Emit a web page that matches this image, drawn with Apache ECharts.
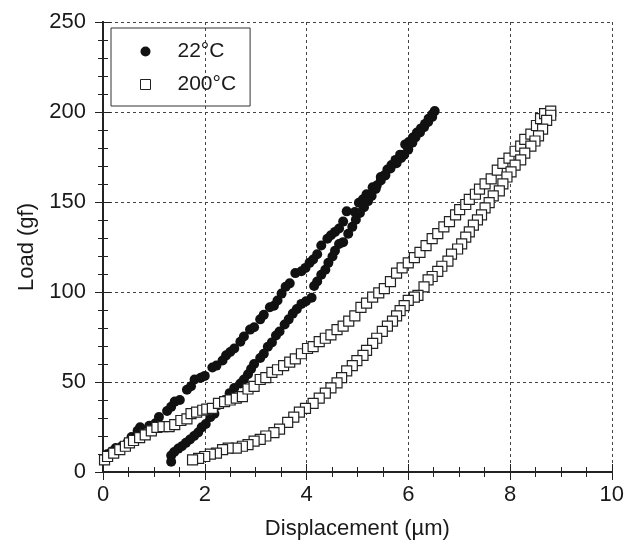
<!DOCTYPE html>
<html>
<head>
<meta charset="utf-8">
<script src="https://cdn.jsdelivr.net/npm/echarts@6/dist/echarts.min.js"></script>
<style>
  html, body { margin: 0; padding: 0; background: #fff; }
  #main { width: 627px; height: 545px; }
</style>
</head>
<body>
<div id="main"></div>
<script>
// 22°C: loading branch then unloading branch
var disp22 = [0.08, 0.17, 0.25, 0.37, 0.48, 0.56, 0.68, 0.73, 0.91, 1.03, 1.10, 1.26, 1.34, 1.41, 1.51, 1.65, 1.73, 1.80, 1.92, 2.00,
  2.15, 2.23, 2.35, 2.42, 2.50, 2.58, 2.70, 2.77, 2.89, 2.97, 3.09, 3.16, 3.28, 3.36, 3.43, 3.51, 3.59, 3.67, 3.78, 3.90,
  3.98, 4.06, 4.13, 4.21, 4.29, 4.41, 4.48, 4.56, 4.64, 4.72, 4.79, 4.95, 5.03, 5.11, 5.18, 5.30, 5.38, 5.46, 5.53, 5.59,
  5.67, 5.75, 5.84, 5.94, 6.01, 6.09, 6.17, 6.25, 6.33, 6.40, 6.47, 6.52,
  6.47, 6.39, 6.31, 6.23, 6.14, 6.08, 6.00, 5.92, 5.86, 5.77, 5.65, 5.55, 5.46, 5.36, 5.28, 5.21, 5.13, 5.05, 4.97, 4.90,
  4.82, 4.72, 4.64, 4.56, 4.51, 4.43, 4.37, 4.29, 4.21, 4.15, 4.10, 3.99, 3.90, 3.81, 3.73, 3.65, 3.57, 3.47, 3.40, 3.32,
  3.24, 3.16, 3.09, 2.97, 2.91, 2.85, 2.77, 2.70, 2.58, 2.49, 2.39, 2.27, 2.19, 2.11, 2.02, 1.94, 1.87, 1.79, 1.71, 1.63,
  1.55, 1.48, 1.40, 1.34, 1.34];
var load22 = [9.9, 11.4, 13.3, 14.3, 16.2, 19.4, 22.9, 24.8, 25.7, 27.1, 30.5, 33.9, 36.2, 39.1, 40.0, 45.7, 47.6, 51.4, 52.4, 53.4,
  58.1, 59.1, 61.9, 64.8, 66.7, 68.6, 72.4, 75.3, 79.1, 80.4, 84.8, 87.3, 91.5, 92.4, 95.3, 99.1, 102.9, 104.8, 110.5, 111.5,
  113.4, 116.2, 118.1, 121.0, 125.8, 129.6, 131.5, 133.4, 135.3, 139.1, 144.8, 144.4, 149.6, 151.5, 154.3, 158.2, 159.1, 163.9, 164.8, 168.1,
  170.5, 173.4, 176.3, 182.0, 183.3, 185.8, 188.6, 190.9, 193.4, 196.3, 198.6, 200.5,
  197.2, 194.4, 191.5, 188.6, 185.8, 182.9, 179.1, 176.3, 174.4, 171.5, 168.6, 164.8, 162.0, 157.2, 153.4, 150.5, 147.1, 143.9, 140.1, 136.2,
  132.4, 127.7, 126.7, 122.9, 119.7, 116.2, 112.4, 109.6, 105.8, 103.3, 96.8, 94.9, 93.4, 90.5, 88.0, 84.8, 81.9, 78.1, 75.8, 72.0,
  69.6, 65.7, 63.3, 60.0, 57.2, 54.3, 51.4, 49.2, 46.7, 43.8, 40.0, 37.2, 32.4, 30.5, 26.7, 24.8, 21.9, 20.0, 18.1, 16.2,
  14.3, 13.0, 11.1, 9.1, 5.7];

// 200°C: loading branch then unloading branch
var disp200 = [0.03, 0.09, 0.21, 0.33, 0.44, 0.52, 0.60, 0.72, 0.83, 0.95, 1.06, 1.18, 1.30, 1.41, 1.53, 1.65, 1.73, 1.84, 1.96, 2.04,
  2.15, 2.27, 2.39, 2.50, 2.62, 2.74, 2.85, 2.97, 3.09, 3.20, 3.32, 3.43, 3.55, 3.67, 3.78, 3.90, 4.02, 4.13, 4.25, 4.37,
  4.48, 4.60, 4.72, 4.83, 4.95, 5.07, 5.18, 5.30, 5.42, 5.53, 5.65, 5.77, 5.88, 6.00, 6.12, 6.23, 6.35, 6.47, 6.58, 6.70,
  6.81, 6.93, 7.01, 7.13, 7.20, 7.32, 7.40, 7.51, 7.63, 7.75, 7.86, 7.98, 8.10, 8.21, 8.29, 8.41, 8.52, 8.60, 8.68, 8.80,
  8.80, 8.72, 8.64, 8.56, 8.49, 8.41, 8.29, 8.21, 8.10, 8.02, 7.94, 7.86, 7.79, 7.67, 7.59, 7.51, 7.44, 7.36, 7.28, 7.20,
  7.13, 7.05, 6.97, 6.85, 6.78, 6.66, 6.58, 6.47, 6.39, 6.31, 6.19, 6.12, 6.00, 5.92, 5.84, 5.77, 5.69, 5.59, 5.49, 5.38,
  5.30, 5.18, 5.11, 4.99, 4.90, 4.79, 4.69, 4.60, 4.48, 4.37, 4.25, 4.13, 3.98, 3.86, 3.75, 3.63, 3.47, 3.36, 3.20, 3.09,
  2.97, 2.85, 2.74, 2.62, 2.46, 2.35, 2.23, 2.11, 2.00, 1.88, 1.76];
var load200 = [6.7, 8.6, 10.5, 12.4, 14.3, 16.2, 17.5, 19.1, 20.6, 22.9, 24.8, 25.2, 25.2, 26.3, 28.6, 29.5, 32.4, 33.3, 34.3, 34.9,
  35.3, 38.1, 39.1, 40.0, 41.0, 41.9, 46.1, 47.6, 51.4, 52.4, 55.3, 56.8, 59.1, 61.0, 62.9, 65.7, 68.6, 69.6, 72.4, 74.3,
  76.2, 79.1, 81.0, 83.8, 86.7, 91.5, 93.8, 97.2, 99.5, 101.9, 105.8, 110.5, 113.4, 116.2, 119.1, 122.0, 125.8, 129.6, 132.4, 136.2,
  139.1, 142.9, 145.8, 148.6, 151.5, 154.3, 157.2, 160.1, 162.9, 167.7, 171.5, 174.4, 178.2, 181.0, 184.8, 187.7, 192.5, 196.3, 199.1, 200.5,
  198.2, 195.3, 190.5, 186.7, 183.9, 181.0, 177.2, 173.4, 170.5, 166.7, 163.9, 160.1, 156.2, 153.4, 149.6, 146.7, 142.9, 140.1, 137.2, 133.4,
  130.5, 126.7, 123.9, 121.0, 117.2, 114.3, 111.5, 108.6, 106.7, 102.9, 98.1, 97.2, 95.3, 92.4, 89.6, 86.7, 83.8, 81.0, 78.1, 74.3,
  71.5, 67.6, 64.8, 61.9, 59.1, 56.2, 52.4, 49.5, 46.7, 43.8, 41.0, 38.1, 35.3, 33.3, 30.5, 27.6, 23.8, 21.9, 20.0, 18.1,
  17.2, 15.2, 14.3, 13.3, 13.3, 12.4, 10.5, 9.9, 8.6, 7.6, 6.7];

var seriesNames = ['22°C', '200°C'];

function pairs(xs, ys) {
    return xs.map(function (x, i) { return [x, ys[i]]; });
}

var myChart = echarts.init(document.getElementById('main'));

var fontFamily = 'Liberation Sans, Arial, sans-serif';
var axisColor = '#222';
var textColor = '#1a1a1a';

var option = {
    animation: false,
    textStyle: { fontFamily: fontFamily },
    grid: { left: 103, right: 9, top: 22, bottom: 69 },
    legend: {
        orient: 'vertical',
        left: 111,
        top: 28,
        padding: [13, 14, 11, 29],
        itemGap: 12,
        itemWidth: 10,
        itemHeight: 10,
        borderColor: '#333',
        borderWidth: 1,
        textStyle: { fontSize: 21, color: textColor, lineHeight: 20, padding: [0, 0, 0, 22] },
        data: [
            { name: seriesNames[0], icon: 'circle' },
            { name: seriesNames[1], icon: 'rect', itemStyle: { color: '#fff', borderColor: '#222', borderWidth: 1 } }
        ]
    },
    xAxis: [
        {
            type: 'value', min: 0, max: 10, interval: 2,
            name: 'Displacement (µm)', nameLocation: 'middle', nameGap: 46,
            nameTextStyle: { fontSize: 22, color: textColor },
            axisLine: { lineStyle: { color: axisColor, width: 2 } },
            axisTick: { inside: true, length: 8, lineStyle: { color: axisColor } },
            minorTick: { show: true, splitNumber: 4, length: 5, lineStyle: { color: axisColor } },
            axisLabel: { fontSize: 22, color: textColor, margin: 12 },
            splitLine: { show: true, lineStyle: { color: '#444', type: [3, 3], width: 1 } }
        },
        {
            type: 'value', min: 0, max: 10, interval: 2, position: 'top',
            axisLine: { lineStyle: { color: axisColor, width: 2 } },
            axisTick: { inside: true, length: 8, lineStyle: { color: axisColor } },
            minorTick: { show: true, splitNumber: 4, length: 5, lineStyle: { color: axisColor } },
            axisLabel: { show: false },
            splitLine: { show: false }
        }
    ],
    yAxis: [
        {
            type: 'value', min: 0, max: 250, interval: 50,
            name: 'Load (gf)', nameLocation: 'middle', nameGap: 64, nameRotate: 90,
            nameTextStyle: { fontSize: 22, color: textColor },
            axisLine: { show: true, lineStyle: { color: axisColor, width: 2 } },
            axisTick: { show: true, inside: true, length: 8, lineStyle: { color: axisColor } },
            minorTick: { show: true, splitNumber: 5, length: 5, lineStyle: { color: axisColor } },
            axisLabel: { fontSize: 22, color: textColor, margin: 17 },
            splitLine: { show: true, lineStyle: { color: '#444', type: [3, 3], width: 1 } }
        },
        {
            type: 'value', min: 0, max: 250, interval: 50, position: 'right',
            axisLine: { show: true, lineStyle: { color: axisColor, width: 2 } },
            axisTick: { show: true, inside: true, length: 8, lineStyle: { color: axisColor } },
            minorTick: { show: true, splitNumber: 5, length: 5, lineStyle: { color: axisColor } },
            axisLabel: { show: false },
            splitLine: { show: false }
        }
    ],
    series: [
        {
            name: seriesNames[0],
            type: 'scatter',
            symbol: 'circle',
            symbolSize: 10,
            itemStyle: { color: '#111', opacity: 1 },
            data: pairs(disp22, load22)
        },
        {
            name: seriesNames[1],
            type: 'scatter',
            symbol: 'rect',
            symbolSize: 10,
            itemStyle: { color: '#fff', borderColor: '#222', borderWidth: 1.2, opacity: 1 },
            data: pairs(disp200, load200)
        }
    ]
};

myChart.setOption(option);
</script>
</body>
</html>
